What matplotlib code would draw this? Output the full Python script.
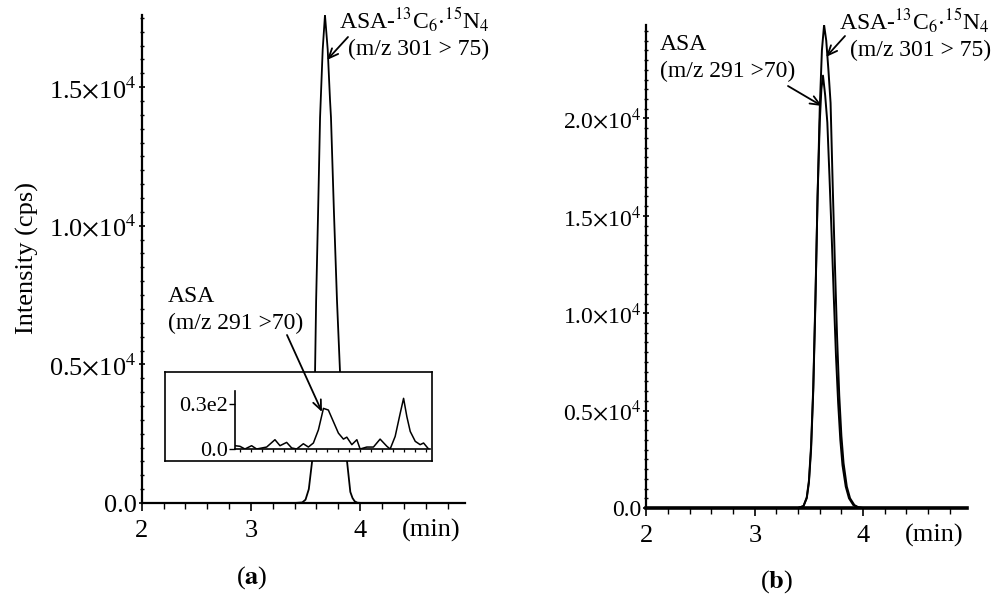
import numpy as np
import matplotlib.pyplot as plt
from matplotlib.ticker import MultipleLocator, FixedLocator

plt.rcParams['font.family'] = ['Liberation Serif', 'DejaVu Serif']
plt.rcParams['mathtext.fontset'] = 'stix'

# ---- data (time in min, intensity in cps) ----
# (a) internal standard ASA-13C6.15N4, m/z 301 > 75
a_is_time = [2.00, 3.40, 3.47, 3.50, 3.53, 3.56, 3.575, 3.587, 3.597, 3.615, 3.633, 3.657,
             3.678, 3.703, 3.724, 3.733, 3.76, 3.788, 3.816, 3.85, 3.88, 3.91, 3.93, 3.95,
             3.975, 4.02, 4.96]
a_is_int = [0, 0, 20, 120, 500, 1500, 3000, 4700, 7300, 10500, 13900, 16350,
            17600, 16350, 14550, 13900, 10500, 7300, 4700, 2800, 1500, 400, 180, 60,
            10, 0, 0]

# (a) inset: ASA, m/z 291 > 70 (low level)
a_asa_time = [2.853, 2.899, 2.945, 3.006, 3.052, 3.144, 3.220, 3.266, 3.327, 3.373, 3.419,
              3.480, 3.526, 3.572, 3.618, 3.664, 3.709, 3.755, 3.801, 3.847, 3.878, 3.924,
              3.970, 4.000, 4.061, 4.122, 4.183, 4.245, 4.275, 4.321, 4.367, 4.398, 4.428,
              4.459, 4.505, 4.550, 4.581, 4.627]
a_asa_int = [2.2, 1.8, 0.0, 2.2, 0.0, 1.3, 6.2, 2.2, 4.4, 0.7, 0.0,
             3.5, 1.3, 4.0, 12.8, 27.1, 26.0, 18.3, 10.6, 6.6, 7.9, 2.9,
             6.2, 0.0, 1.3, 1.3, 6.6, 1.8, 0.0, 8.4, 23.8, 33.8, 21.6,
             11.7, 5.1, 2.9, 4.0, 0.0]

# (b) internal standard, m/z 301 > 75
b_is_time = [2.00, 3.40, 3.45, 3.48, 3.50, 3.52, 3.54, 3.56, 3.58, 3.60, 3.62, 3.64, 3.66,
             3.68, 3.70, 3.72, 3.74, 3.76, 3.78, 3.80, 3.82, 3.85, 3.88, 3.92, 3.96, 4.00, 4.96]
b_is_int = [0, 0, 100, 500, 1300, 3000, 6000, 10500, 16000, 20500, 23500, 24800, 24000,
            22500, 20800, 16500, 12500, 8800, 5800, 3700, 2300, 1100, 500, 150, 30, 0, 0]

# (b) ASA, m/z 291 > 70
b_asa_time = [2.00, 3.40, 3.45, 3.48, 3.50, 3.52, 3.54, 3.56, 3.58, 3.60, 3.615, 3.63, 3.65,
              3.67, 3.69, 3.71, 3.73, 3.75, 3.77, 3.79, 3.81, 3.84, 3.87, 3.91, 3.95, 4.00, 4.96]
b_asa_int = [0, 0, 100, 550, 1400, 3200, 6200, 10800, 16000, 19800, 21500, 22200, 21200,
             19800, 17000, 14000, 10800, 7800, 5400, 3500, 2200, 1100, 500, 150, 30, 0, 0]

a_yticks = [0, 5000, 10000, 15000]
b_yticks = [0, 5000, 10000, 15000, 20000]
ytick_labels = ['0.0', r'0.5$\times$10$^4$', r'1.0$\times$10$^4$',
                r'1.5$\times$10$^4$', r'2.0$\times$10$^4$']
xticks = [2, 3, 4]

IS_LABEL = r'ASA-$^{13}$C$_6$$\cdot$$^{15}$N$_4$'

W, H = 1004, 596


def fx(x):
    return x / W


def fy(y):
    return 1 - y / H


def rect(x0, y0, x1, y1):
    # pixel box (top-left origin) -> figure fraction rect
    return [fx(x0), fy(y1), fx(x1) - fx(x0), fy(y0) - fy(y1)]


def style_main(ax, yticks, ymax, ysize):
    for s in ['top', 'right']:
        ax.spines[s].set_visible(False)
    for s in ['left', 'bottom']:
        ax.spines[s].set_linewidth(1.6)
    ax.set_xlim(2, 4.96)
    ax.set_ylim(0, ymax)
    ax.xaxis.set_major_locator(FixedLocator(xticks))
    ax.set_xticklabels([str(t) for t in xticks])
    ax.xaxis.set_minor_locator(MultipleLocator(0.2))
    ax.yaxis.set_major_locator(FixedLocator(yticks))
    ax.set_yticklabels(ytick_labels[:len(yticks)])
    ax.yaxis.set_minor_locator(MultipleLocator(500))
    ax.tick_params(axis='x', which='major', direction='out', length=6, width=1.2,
                   labelsize=19, pad=6)
    ax.tick_params(axis='x', which='minor', direction='out', length=4, width=1)
    ax.tick_params(axis='y', which='major', direction='inout', length=5, width=1.2,
                   labelsize=ysize, pad=1)
    ax.tick_params(axis='y', which='minor', direction='inout', length=3, width=1)
    ax.text(4.655, -0.056, '(min)', transform=ax.get_xaxis_transform(),
            ha='center', va='center', fontsize=19)


fig = plt.figure(figsize=(10.04, 5.96), dpi=100)

# ---------------- panel (a) ----------------
axA = fig.add_axes(rect(141.7, 15, 465, 503))
axA.plot(a_is_time, a_is_int, color='black', lw=1.3)
style_main(axA, a_yticks, 17600, 19)
fig.text(fx(27), fy(258), 'Intensity (cps)', rotation=90, ha='center', va='center',
         fontsize=19)

# inset frame
box = fig.add_axes(rect(165, 372, 432, 461))
box.set_xticks([])
box.set_yticks([])
for s in box.spines.values():
    s.set_linewidth(1.2)

inset = fig.add_axes(rect(235, 391, 430, 449))
inset.patch.set_alpha(0)
inset.plot(a_asa_time, a_asa_int, color='black', lw=1.1)
inset.set_xlim(2.854, 4.64)
inset.set_ylim(0, 38.7)
for s in ['top', 'right']:
    inset.spines[s].set_visible(False)
for s in ['left', 'bottom']:
    inset.spines[s].set_linewidth(1.2)
inset.set_yticks([0, 30])
inset.set_yticklabels(['0.0', '0.3e2'])
inset.xaxis.set_major_locator(MultipleLocator(0.1))
inset.set_xticklabels([])
inset.tick_params(axis='x', direction='out', length=2.5, width=0.9)
inset.tick_params(axis='y', direction='out', length=4, width=1, labelsize=16, pad=1)

fig.text(fx(339), fy(29), IS_LABEL, ha='left', va='baseline', fontsize=17)
fig.text(fx(348), fy(55), '(m/z 301 > 75)', ha='left', va='baseline', fontsize=17)
fig.text(fx(168), fy(302), 'ASA', ha='left', va='baseline', fontsize=17)
fig.text(fx(168), fy(329), '(m/z 291 >70)', ha='left', va='baseline', fontsize=17)

arrow = dict(arrowstyle='->,head_length=0.7,head_width=0.3', color='black', lw=1.3,
             shrinkA=0, shrinkB=0)
fig.add_artist(plt.Annotation('', xy=(fx(327), fy(60)), xytext=(fx(348), fy(37)),
                              xycoords='figure fraction', arrowprops=arrow))
fig.add_artist(plt.Annotation('', xy=(fx(322), fy(412)), xytext=(fx(287), fy(335)),
                              xycoords='figure fraction', arrowprops=arrow))

fig.text(fx(252), fy(578), r'($\mathbf{a}$)', ha='center', va='center', fontsize=19)

# ---------------- panel (b) ----------------
axB = fig.add_axes(rect(646.5, 25, 967, 508))
axB.plot(b_is_time, b_is_int, color='black', lw=1.4)
axB.plot(b_asa_time, b_asa_int, color='black', lw=1.4)
style_main(axB, b_yticks, 24800, 17)
axB.spines['bottom'].set_linewidth(2.6)

fig.text(fx(839), fy(30), IS_LABEL, ha='left', va='baseline', fontsize=17)
fig.text(fx(850), fy(56), '(m/z 301 > 75)', ha='left', va='baseline', fontsize=17)
fig.text(fx(660), fy(50), 'ASA', ha='left', va='baseline', fontsize=17)
fig.text(fx(660), fy(77), '(m/z 291 >70)', ha='left', va='baseline', fontsize=17)
fig.add_artist(plt.Annotation('', xy=(fx(826), fy(57)), xytext=(fx(845), fy(36)),
                              xycoords='figure fraction', arrowprops=arrow))
fig.add_artist(plt.Annotation('', xy=(fx(822), fy(106)), xytext=(fx(788), fy(86)),
                              xycoords='figure fraction', arrowprops=arrow))

fig.text(fx(777), fy(582), r'($\mathbf{b}$)', ha='center', va='center', fontsize=19)

fig.savefig('out.png', dpi=100)
